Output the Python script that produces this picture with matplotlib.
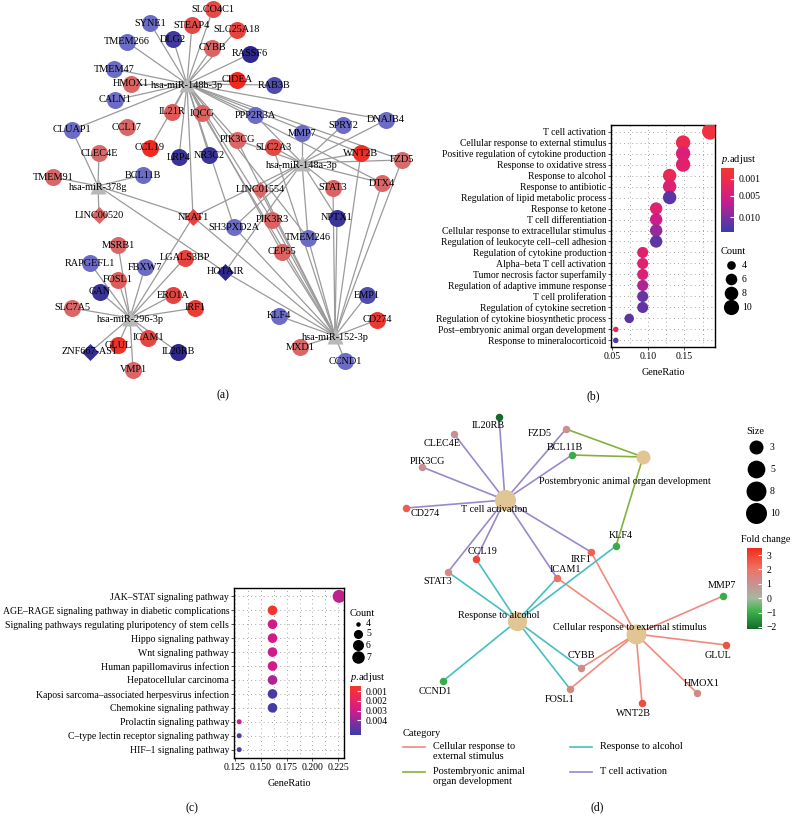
import matplotlib

matplotlib.use("Agg")
import matplotlib.pyplot as plt
import numpy as np
from matplotlib.cm import ScalarMappable
from matplotlib.colors import LinearSegmentedColormap, Normalize
from matplotlib.ticker import MultipleLocator

W, H = 794, 826

plt.rcParams["font.family"] = ["Liberation Serif", "DejaVu Serif"]
plt.rcParams["mathtext.fontset"] = "custom"
plt.rcParams["mathtext.it"] = "Liberation Serif:italic"
plt.rcParams["mathtext.rm"] = "Liberation Serif"

# ---------------- data ----------------
# (a) miRNA - lncRNA - mRNA network
mirna_nodes = ["hsa-miR-148b-3p", "hsa-miR-148a-3p", "hsa-miR-378g", "hsa-miR-296-3p", "hsa-miR-152-3p"]
lncrna_nodes = ["LINC01554", "LINC00520", "NEAT1", "HOTAIR", "ZNF667-AS1"]
mirna_targets = {
    "hsa-miR-148b-3p": ["SYNE1", "SLCO4C1", "STEAP4", "SLC25A18", "TMEM266", "DLG2", "CYBB", "RASSF6",
                        "TMEM47", "HMOX1", "CIDEA", "RAB3B", "CALN1", "IL21R", "IQCG", "CCL19", "LRP4",
                        "NR3C2", "PPP2R3A", "DNAJB4", "CLUAP1", "NEAT1", "PIK3CG", "SH3PXD2A", "PIK3R3",
                        "CEP55", "TMEM246", "FZD5", "DTX4", "WNT2B"],
    "hsa-miR-148a-3p": ["MMP7", "SPRY2", "DNAJB4", "WNT2B", "FZD5", "STAT3", "DTX4", "NPTX1", "SLC2A3",
                        "PPP2R3A", "LINC01554", "PIK3CG", "TMEM246", "SH3PXD2A", "NEAT1", "HOTAIR"],
    "hsa-miR-378g": ["CLUAP1", "CLEC4E", "TMEM91", "BCL11B", "LINC00520", "NEAT1", "HOTAIR"],
    "hsa-miR-296-3p": ["MSRB1", "RAPGEFL1", "FBXW7", "LGALS3BP", "FOSL1", "GAN", "ERO1A", "SLC7A5", "IRF1",
                       "GLUL", "ICAM1", "IL20RB", "ZNF667-AS1", "VMP1", "NEAT1"],
    "hsa-miR-152-3p": ["EMP1", "KLF4", "CD274", "MXD1", "CCND1", "HOTAIR", "NPTX1", "TMEM246", "CEP55",
                       "PIK3R3", "SH3PXD2A", "IQCG", "PIK3CG", "DTX4", "FZD5", "WNT2B", "LINC01554",
                       "NEAT1", "SLC2A3", "STAT3"],
}
fold_change = {
    "SYNE1": -1, "SLCO4C1": 2, "STEAP4": 2, "SLC25A18": 2.2, "TMEM266": -1, "DLG2": -1.8, "CYBB": 1.2,
    "RASSF6": -2.1, "TMEM47": -1, "HMOX1": 1.2, "CIDEA": 3, "RAB3B": -1.5, "CALN1": -1, "IL21R": 1.5,
    "IQCG": 1.2, "PPP2R3A": -1, "DNAJB4": -1, "CLUAP1": -1, "CCL17": 1.1, "SPRY2": -1, "MMP7": -1,
    "PIK3CG": 1.1, "SLC2A3": 2, "CCL19": 3, "CLEC4E": 1, "LRP4": -1.9, "NR3C2": -1.9, "WNT2B": 2.8,
    "FZD5": 1, "TMEM91": 1.1, "BCL11B": -1, "STAT3": 1.2, "DTX4": 1.1, "LINC01554": 1.1, "LINC00520": 1.1,
    "NEAT1": 2.2, "NPTX1": -1.9, "SH3PXD2A": -1, "PIK3R3": 1.2, "TMEM246": -1, "CEP55": 1.2, "MSRB1": 1.1,
    "RAPGEFL1": -1, "FBXW7": -1, "LGALS3BP": 2.2, "HOTAIR": -2.1, "FOSL1": 1.4, "GAN": -1.9, "ERO1A": 2.2,
    "SLC7A5": 1.1, "IRF1": 2.4, "GLUL": 2.7, "ICAM1": 2.1, "IL20RB": -2.1, "ZNF667-AS1": -2, "VMP1": 1.1,
    "EMP1": -1.5, "KLF4": -1, "CD274": 2.5, "MXD1": 1.1, "CCND1": -1,
}

# (b) GO enrichment
go_terms = ["T cell activation", "Cellular response to external stimulus",
            "Positive regulation of cytokine production", "Response to oxidative stress",
            "Response to alcohol", "Response to antibiotic", "Regulation of lipid metabolic process",
            "Response to ketone", "T cell differentiation", "Cellular response to extracellular stimulus",
            "Regulation of leukocyte cell\u2013cell adhesion", "Regulation of cytokine production",
            "Alpha\u2013beta T cell activation", "Tumor necrosis factor superfamily",
            "Regulation of adaptive immune response", "T cell proliferation",
            "Regulation of cytokine secretion", "Regulation of cytokine biosynthetic process",
            "Post\u2013embryonic animal organ development", "Response to mineralocorticoid"]
go_count = [10, 8, 8, 8, 7, 7, 7, 6, 6, 6, 6, 5, 5, 5, 5, 5, 5, 4, 3, 3]
go_padj = [0.0002, 0.0015, 0.0045, 0.0038, 0.0018, 0.0042, 0.0118, 0.0040, 0.0060, 0.0087, 0.0115,
           0.0038, 0.0040, 0.0045, 0.0075, 0.0110, 0.0113, 0.0118, 0.0023, 0.0122]
go_total = 54

# (c) KEGG enrichment
kegg_terms = ["JAK\u2013STAT signaling pathway", "AGE\u2013RAGE signaling pathway in diabetic complications",
              "Signaling pathways regulating pluripotency of stem cells", "Hippo signaling pathway",
              "Wnt signaling pathway", "Human papillomavirus infection", "Hepatocellular carcinoma",
              "Kaposi sarcoma\u2013associated herpesvirus infection", "Chemokine signaling pathway",
              "Prolactin signaling pathway", "C\u2013type lectin receptor signaling pathway",
              "HIF\u20131 signaling pathway"]
kegg_count = [7, 5, 5, 5, 5, 5, 5, 5, 5, 4, 4, 4]
kegg_padj = [0.0033, 0.0006, 0.0030, 0.0030, 0.0030, 0.0030, 0.0035, 0.0052, 0.0053, 0.0030, 0.0052, 0.0052]
kegg_total = 31

# (d) gene-concept network
cnet_terms = ["Cellular response to external stimulus", "Postembryonic animal organ development",
              "Response to alcohol", "T cell activation"]
cnet_legend = ["Cellular response to\nexternal stimulus", "Postembryonic animal\norgan development",
               "Response to alcohol", "T cell activation"]
cnet_genes = {
    "Cellular response to external stimulus": ["ICAM1", "IRF1", "MMP7", "GLUL", "HMOX1", "WNT2B", "FOSL1", "CYBB"],
    "Postembryonic animal organ development": ["FZD5", "BCL11B", "KLF4"],
    "Response to alcohol": ["STAT3", "CCL19", "ICAM1", "KLF4", "CCND1", "CYBB", "FOSL1"],
    "T cell activation": ["IL20RB", "CLEC4E", "FZD5", "BCL11B", "PIK3CG", "CD274", "CCL19", "STAT3", "ICAM1", "IRF1"],
}
size_legend = [3, 5, 8, 10]
fc_ticks = [3, 2, 1, 0, -1, -2]

# ---------------- layout (pixel positions) ----------------
pos_a = {
    "hsa-miR-148b-3p": (187, 84), "hsa-miR-148a-3p": (302, 163), "hsa-miR-378g": (98, 186),
    "hsa-miR-296-3p": (130, 318), "hsa-miR-152-3p": (335, 336),
    "SYNE1": (150, 23), "SLCO4C1": (213, 9), "STEAP4": (192, 25), "SLC25A18": (237, 30),
    "TMEM266": (127, 42), "DLG2": (173, 39), "CYBB": (212, 48), "RASSF6": (250, 54), "TMEM47": (114, 69),
    "HMOX1": (131, 84), "CIDEA": (237, 80), "RAB3B": (274, 85), "CALN1": (115, 100), "IL21R": (172, 112),
    "IQCG": (202, 113), "PPP2R3A": (255, 115), "DNAJB4": (386, 120), "CLUAP1": (72, 130),
    "CCL17": (127, 127), "SPRY2": (343, 125), "MMP7": (302, 133), "PIK3CG": (237, 140),
    "SLC2A3": (273, 147), "CCL19": (150, 148), "CLEC4E": (99, 153), "LRP4": (179, 157),
    "NR3C2": (209, 155), "WNT2B": (361, 153), "FZD5": (402, 160), "TMEM91": (53, 177),
    "BCL11B": (143, 175), "STAT3": (333, 188), "DTX4": (382, 183), "LINC01554": (260, 190),
    "LINC00520": (99, 215), "NEAT1": (193, 217), "NPTX1": (337, 218), "SH3PXD2A": (234, 227),
    "PIK3R3": (272, 220), "TMEM246": (308, 238), "CEP55": (282, 252), "MSRB1": (118, 245),
    "RAPGEFL1": (90, 263), "FBXW7": (145, 267), "LGALS3BP": (185, 258), "HOTAIR": (225, 272),
    "FOSL1": (118, 280), "GAN": (100, 292), "ERO1A": (173, 295), "SLC7A5": (72, 308), "IRF1": (195, 308),
    "GLUL": (118, 345), "ICAM1": (148, 338), "IL20RB": (178, 352), "ZNF667-AS1": (90, 352),
    "VMP1": (133, 370), "EMP1": (367, 295), "KLF4": (279, 316), "CD274": (377, 320), "MXD1": (300, 347),
    "CCND1": (345, 361),
}
pos_d = {
    "T cell activation": (505, 500), "Postembryonic animal organ development": (643, 457),
    "Response to alcohol": (517, 621), "Cellular response to external stimulus": (636, 634),
    "IL20RB": (499, 417), "CLEC4E": (454, 434), "FZD5": (566, 429), "BCL11B": (572, 455),
    "PIK3CG": (422, 467), "CD274": (406, 508), "KLF4": (616, 546), "IRF1": (591, 552),
    "CCL19": (476, 559), "ICAM1": (557, 578), "STAT3": (448, 572), "MMP7": (723, 596),
    "GLUL": (726, 645), "CYBB": (581, 668), "CCND1": (443, 681), "HMOX1": (697, 693),
    "FOSL1": (570, 689), "WNT2B": (642, 703),
}
label_d = {
    "T cell activation": (494, 509), "Postembryonic animal organ development": (625, 481),
    "Response to alcohol": (499, 615), "Cellular response to external stimulus": (630, 627),
    "IL20RB": (488, 425), "CLEC4E": (442, 443), "FZD5": (540, 433), "BCL11B": (565, 447),
    "PIK3CG": (427, 461), "CD274": (425, 513), "KLF4": (621, 535), "IRF1": (581, 560),
    "CCL19": (483, 552), "ICAM1": (565, 570), "STAT3": (438, 582), "MMP7": (722, 585),
    "GLUL": (718, 656), "CYBB": (581, 656), "CCND1": (435, 692), "HMOX1": (702, 683),
    "FOSL1": (560, 699), "WNT2B": (633, 714),
}
edge_colors = ["#F08A7E", "#86B03C", "#45C0C2", "#9B88CC"]

cmap_a = LinearSegmentedColormap.from_list(
    "net_a", [(0, "#2c2288"), (0.23, "#6c6cc6"), (0.42, "#b07a9a"), (0.62, "#d86a6a"),
              (0.81, "#e24a46"), (1, "#ee2a20")])
norm_a = Normalize(-2.2, 3.0)
cmap_fc = LinearSegmentedColormap.from_list(
    "fc", [(0, "#14692a"), (0.22, "#3cb44a"), (0.38, "#a3b8a0"), (0.56, "#c99090"),
           (0.74, "#ee7462"), (1, "#f12a1c")])
norm_fc = Normalize(-2.14, 3.49)
cmap_p = LinearSegmentedColormap.from_list(
    "padj", [(0, "#f2382a"), (0.22, "#ec2855"), (0.5, "#d01c8a"), (0.77, "#7a30a0"), (1, "#3a3ca8")])


def px_rect(left, top, right, bottom):
    return [left / W, 1 - bottom / H, (right - left) / W, (bottom - top) / H]


def pt_area(diameter_px):
    return (diameter_px * 72 / 100) ** 2


def dot_diameter(count, cmin, cmax, dmin, dmax):
    frac = (np.asarray(count, dtype=float) - cmin) / (cmax - cmin)
    return dmin + (dmax - dmin) * np.sqrt(frac)


fig = plt.figure(figsize=(W / 100, H / 100), dpi=100)
canvas = fig.add_axes([0, 0, 1, 1])
canvas.set_xlim(0, W)
canvas.set_ylim(H, 0)
canvas.axis("off")

# ---------------- (a) ----------------
for mirna, targets in mirna_targets.items():
    x0, y0 = pos_a[mirna]
    for target in targets:
        x1, y1 = pos_a[target]
        canvas.plot([x0, x1], [y0, y1], color="#9a9a9a", lw=0.9, zorder=1)
for name, (x, y) in pos_a.items():
    if name in mirna_nodes:
        canvas.scatter(x, y, s=pt_area(16), marker="^", color="#b8b8b8", lw=0, zorder=2)
        canvas.text(x, y + 2, name, ha="center", va="center", fontsize=7.4, zorder=3)
    else:
        marker = "D" if name in lncrna_nodes else "o"
        size = pt_area(12) if marker == "D" else pt_area(17)
        canvas.scatter(x, y, s=size, marker=marker, color=cmap_a(norm_a(fold_change[name])), lw=0, zorder=2)
        canvas.text(x, y, name, ha="center", va="center", fontsize=7.4, zorder=3)
canvas.text(223, 395, "(a)", ha="center", va="center", fontsize=8.5)


# ---------------- (b) and (c) dot plots ----------------
def dot_panel(rect, terms, counts, total, padj, norm, xlim, xticks, minor, size_rng, label_fs):
    ax = fig.add_axes(rect)
    rows = np.arange(len(terms))
    ratio = np.asarray(counts) / total
    diam = dot_diameter(counts, *size_rng)
    ax.scatter(ratio, rows, s=pt_area(diam), c=padj, cmap=cmap_p, norm=norm, lw=0, zorder=3)
    ax.set_xlim(*xlim)
    ax.set_ylim(len(terms) - 0.4, -0.6)
    ax.set_yticks(rows)
    ax.set_yticklabels(terms, fontsize=label_fs)
    ax.set_xticks(xticks)
    ax.xaxis.set_minor_locator(MultipleLocator(minor))
    ax.grid(True, which="both", axis="x", linestyle=(0, (1, 4)), color="#888888", lw=0.6)
    ax.grid(True, which="major", axis="y", linestyle=(0, (1, 4)), color="#888888", lw=0.6)
    ax.tick_params(which="major", length=2, width=0.6, pad=1.5, color="#333333")
    ax.tick_params(which="minor", length=0)
    for spine in ax.spines.values():
        spine.set_linewidth(1.0)
    ax.set_axisbelow(True)
    ax.set_xlabel("GeneRatio", fontsize=7.3, labelpad=5)
    return ax


norm_b = Normalize(-0.0015, 0.0135)
ax_b = dot_panel(px_rect(611, 125, 715, 347), go_terms, go_count, go_total, go_padj, norm_b,
                 (0.049, 0.192), [0.05, 0.10, 0.15], 0.025, (3, 10, 5.5, 16), 6.9)
ax_b.set_xticklabels(["0.05", "0.10", "0.15"], fontsize=7)

cax_b = fig.add_axes(px_rect(721, 168, 734, 232))
cb_b = fig.colorbar(ScalarMappable(norm=norm_b, cmap=cmap_p), cax=cax_b)
cb_b.set_ticks([0.001, 0.005, 0.010])
cb_b.set_ticklabels(["0.001", "0.005", "0.010"])
cb_b.ax.invert_yaxis()
cb_b.outline.set_visible(False)
cb_b.ax.tick_params(length=3, color="white", width=0.8, direction="in", labelsize=7, pad=3)
canvas.text(721, 159, r"$\mathit{p}$.adjust", ha="left", va="center", fontsize=7.5)
canvas.text(721, 252, "Count", ha="left", va="center", fontsize=7.5)
for i, c in enumerate([4, 6, 8, 10]):
    y = 265 + i * 14
    canvas.scatter(731, y, s=pt_area(dot_diameter(c, 3, 10, 5.5, 16) - 0.8), color="black", lw=0)
    canvas.text(742, y, str(c), ha="left", va="center", fontsize=7)
canvas.text(593, 396, "(b)", ha="center", va="center", fontsize=8.5)

norm_c = Normalize(0.00048, 0.0055)
ax_c = dot_panel(px_rect(234, 588, 344, 758), kegg_terms, kegg_count, kegg_total, kegg_padj, norm_c,
                 (0.124, 0.2305), [0.125, 0.150, 0.175, 0.200, 0.225], 0.0125, (4, 7, 5, 13), 7)
ax_c.set_xticklabels(["0.125", "0.150", "0.175", "0.200", "0.225"], fontsize=7)

canvas.text(350, 614, "Count", ha="left", va="center", fontsize=7.5)
for i, c in enumerate([4, 5, 6, 7]):
    y = [624, 634, 645, 657][i]
    canvas.scatter(358, y, s=pt_area(dot_diameter(c, 4, 7, 4.5, 12.5)), color="black", lw=0)
    canvas.text(366, y, str(c), ha="left", va="center", fontsize=7)
canvas.text(350, 678, r"$\mathit{p}$.adjust", ha="left", va="center", fontsize=7.5)
cax_c = fig.add_axes(px_rect(350, 686, 361, 735))
cb_c = fig.colorbar(ScalarMappable(norm=norm_c, cmap=cmap_p), cax=cax_c)
cb_c.set_ticks([0.001, 0.002, 0.003, 0.004])
cb_c.set_ticklabels(["0.001", "0.002", "0.003", "0.004"])
cb_c.ax.invert_yaxis()
cb_c.outline.set_visible(False)
cb_c.ax.tick_params(length=3, color="white", width=0.8, direction="in", labelsize=7, pad=3)
canvas.text(192, 808, "(c)", ha="center", va="center", fontsize=8.5)

# ---------------- (d) ----------------
for term, color in zip(cnet_terms, edge_colors):
    x0, y0 = pos_d[term]
    for gene in cnet_genes[term]:
        x1, y1 = pos_d[gene]
        canvas.plot([x0, x1], [y0, y1], color=color, lw=1.2, zorder=1)
for term in cnet_terms:
    x, y = pos_d[term]
    d = dot_diameter(len(cnet_genes[term]), 3, 10, 14, 21)
    canvas.scatter(x, y, s=pt_area(d), color="#E2C594", lw=0, zorder=2)
    lx, ly = label_d[term]
    canvas.text(lx, ly, term, ha="center", va="center", fontsize=7.3, zorder=3)
genes_d = sorted({g for genes in cnet_genes.values() for g in genes})
for gene in genes_d:
    x, y = pos_d[gene]
    canvas.scatter(x, y, s=pt_area(7.5), color=cmap_fc(norm_fc(fold_change[gene])), lw=0, zorder=2)
    lx, ly = label_d[gene]
    canvas.text(lx, ly, gene, ha="center", va="center", fontsize=7.3, zorder=3)

canvas.text(746, 431, "Size", ha="left", va="center", fontsize=7.5)
for c, y in zip(size_legend, [447, 469, 491, 513]):
    canvas.scatter(756, y, s=pt_area(dot_diameter(c, 3, 10, 14, 21)), color="black", lw=0)
    canvas.text(770, y, str(c), ha="left", va="center", fontsize=7)

canvas.text(741, 539, "Fold change", ha="left", va="center", fontsize=7.2)
cax_d = fig.add_axes(px_rect(747, 548, 762, 629))
cb_d = fig.colorbar(ScalarMappable(norm=norm_fc, cmap=cmap_fc), cax=cax_d)
cb_d.set_ticks(fc_ticks)
cb_d.set_ticklabels(["3", "2", "1", "0", "\u22121", "\u22122"])
cb_d.outline.set_visible(False)
cb_d.ax.tick_params(length=3, color="white", width=0.8, direction="in", labelsize=7, pad=3)

canvas.text(403, 734, "Category", ha="left", va="center", fontsize=7.5)
legend_xy = [(403, 747), (403, 772), (570, 747), (570, 772)]
for (lx, ly), label, color in zip(legend_xy, cnet_legend, edge_colors):
    canvas.plot([lx, lx + 22], [ly, ly], color=color, lw=1.2)
    canvas.text(lx + 30, ly - 5, label, ha="left", va="top", fontsize=7.4, linespacing=1.2)
canvas.text(597, 807, "(d)", ha="center", va="center", fontsize=8.5)

fig.savefig("out.png", dpi=100)
